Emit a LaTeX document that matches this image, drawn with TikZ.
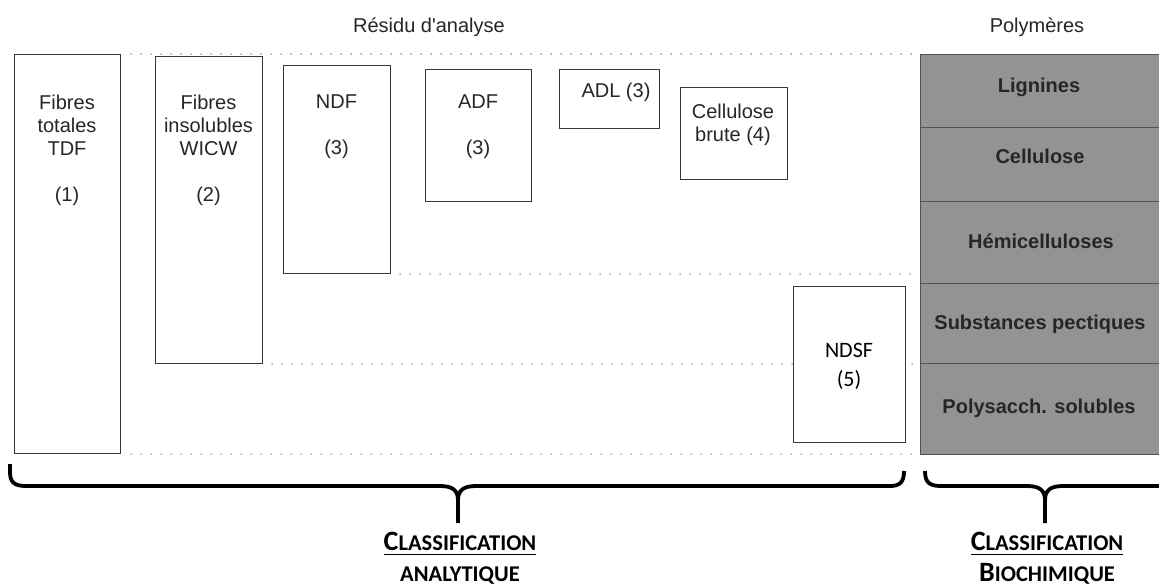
\documentclass[tikz,border=0pt]{standalone}
\usepackage{fontspec}
\setmainfont{Liberation Sans}[Ligatures=TeXOff]
\newfontfamily\calib{Carlito}
\definecolor{polyg}{RGB}{147,147,150}
\definecolor{ptext}{RGB}{38,38,40}
\newcommand\fakesc[2]{{\fontsize{28pt}{28pt}\selectfont #1}{\fontsize{22.5pt}{22.5pt}\selectfont #2}}
\begin{document}
\begin{tikzpicture}[x=1pt,y=-1pt,
 abox/.style={draw=black!78, line width=1.1pt, fill=white, inner sep=0pt, anchor=north west},
 prow/.style={draw=black!68, line width=1.4pt, fill=polyg, inner sep=0pt, anchor=north west, minimum width=250pt},
 btxt/.style={font=\fontsize{20pt}{23pt}\selectfont, align=center, inner sep=0pt, text=black!85},
 ptxt/.style={font=\bfseries\fontsize{20pt}{23pt}\selectfont, inner sep=0pt, anchor=base, text=ptext},
 ctxt/.style={font=\calib\bfseries, inner sep=0pt, anchor=base, text=black},
 dots/.style={line width=1.8pt, line cap=round, dash pattern=on 0pt off 10pt, draw=black!38},
 brace/.style={line width=3.8pt, draw=black, line join=round}]
\useasboundingbox (0,0) rectangle (1159,587);
\fill[white] (0,0) rectangle (1159,587);
% top labels
\node[btxt, anchor=base] (res) at (429,32) {Résidu d'analyse};
\node[btxt, anchor=base] (pol) at (1037,32) {Polymères};
% analytical boxes
\node[abox, minimum width=106pt, minimum height=399pt] (tdf) at (14,54) {};
\node[abox, minimum width=107pt, minimum height=307pt] (wicw) at (155,56) {};
\node[abox, minimum width=107pt, minimum height=208pt] (ndf) at (283,65) {};
\node[abox, minimum width=106pt, minimum height=132pt] (adf) at (425,69) {};
\node[abox, minimum width=100pt, minimum height=59pt] (adl) at (559,69) {};
\node[abox, minimum width=107pt, minimum height=92pt] (cb) at (680,87) {};
\node[btxt, anchor=north] (t1) at (67,95) {Fibres\\totales\\TDF\\[23pt](1)};
\node[btxt, anchor=north] (t2) at (208.5,95) {Fibres\\insolubles\\WICW\\[23pt](2)};
\node[btxt, anchor=north] (t3) at (336.5,95) {NDF\\[23pt](3)};
\node[btxt, anchor=north] (t4) at (478,95) {ADF\\[23pt](3)};
\node[btxt, anchor=base] (t5) at (616,97) {ADL (3)};
\node[btxt, anchor=north] (t6) at (733,104) {Cellulose\\brute (4)};
% polymer column
\node[prow, minimum height=73pt] (lig) at (920,54) {};
\node[prow, minimum height=74pt] (cel) at (920,127) {};
\node[prow, minimum height=82pt] (hemi) at (920,201) {};
\node[prow, minimum height=80pt] (pect) at (920,283) {};
\node[prow, minimum height=91pt] (psol) at (920,363) {};
\node[ptxt] (p1) at (1039,92) {Lignines};
\node[ptxt] (p2) at (1040,163) {Cellulose};
\node[ptxt] (p3) at (1041,248) {Hémicelluloses};
\node[ptxt] (p4) at (1040,329) {Substances pectiques};
\node[ptxt] (p5) at (1039,413) {Polysacch. solubles};
% dotted levels
\draw[dots] ([xshift=10pt]tdf.north east) -- (lig.north west);
\draw[dots] ([xshift=9pt]ndf.south east) -- (ndf.south east -| lig.west);
\draw[dots] ([xshift=9pt]wicw.south east) -- (wicw.south east -| lig.west);
\draw[dots] ([xshift=10pt]tdf.south east) -- (tdf.south east -| lig.west);
% NDSF box
\node[abox, minimum width=112pt, minimum height=156pt] (ndsf) at (793,286) {};
\node[font=\calib\fontsize{22pt}{29pt}\selectfont, align=center, inner sep=0pt, anchor=north] (t7) at (849,343) {NDSF\\(5)};
% braces
\draw[brace] (10,464) -- (10,472) .. controls (10,482) and (14,486) .. (26,486) -- (440,486) .. controls (452,486) and (458,490) .. (458,500) -- (458,523);
\draw[brace] (458,500) .. controls (458,490) and (464,486) .. (476,486) -- (890,486) .. controls (900,486) and (904,482) .. (904,471);
\draw[brace] (925,471) .. controls (925,482) and (929,486) .. (941,486) -- (1027,486) .. controls (1039,486) and (1045,490) .. (1045,500) -- (1045,523);
\draw[brace] (1045,500) .. controls (1045,490) and (1051,486) .. (1063,486) -- (1170,486);
% classification labels
\node[ctxt] (c1) at (460,550) {\fakesc{C}{LASSIFICATION}};
\draw[line width=1.5pt] ([yshift=-4.5pt]c1.base west) -- ([yshift=-4.5pt]c1.base east);
\node[ctxt, font=\calib\bfseries\fontsize{22.5pt}{22.5pt}\selectfont] (c1b) at (460,581) {ANALYTIQUE};
\node[ctxt] (c2) at (1047,550) {\fakesc{C}{LASSIFICATION}};
\draw[line width=1.5pt] ([yshift=-4.5pt]c2.base west) -- ([yshift=-4.5pt]c2.base east);
\node[ctxt] (c2b) at (1047,581) {\fakesc{B}{IOCHIMIQUE}};
\end{tikzpicture}
\end{document}
